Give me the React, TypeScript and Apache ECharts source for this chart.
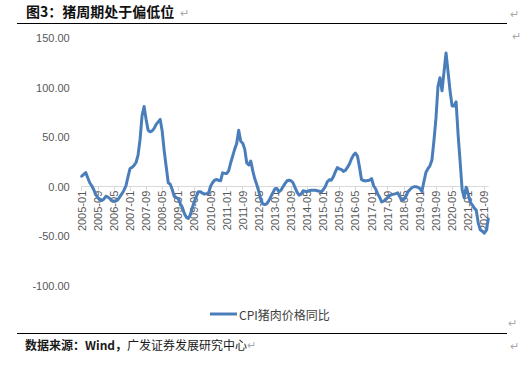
import React, { useEffect, useRef } from "react";
import * as echarts from "echarts";

const startYear = 2005;
const endYear = 2021;
const endMonth = 11;

const v2005 = [10.6, 12.5, 14.3, 9, 4, 1, -3, -8, -11, -13.5, -14, -12.5];
const v2006 = [-9.6, -10.5, -12, -14, -14.6, -14, -13, -10, -7, -3.5, 1, 10];
const v2007 = [18.4, 19.5, 21.5, 24.5, 32, 48, 72, 81, 68, 57, 55.5, 56.4];
const v2008 = [59, 63, 65.5, 68, 56, 36, 20, 4, 2.5, -3, -10, -11];
const v2009 = [-12, -17, -21, -27, -31, -32, -28, -21, -15, -9.5, -5, -5];
const v2010 = [-6.5, -7.5, -7, -6.9, 0.5, 4, 6.6, 7.3, 6.5, 6, 14, 13.5];
const v2011 = [13.3, 16, 24, 31, 38, 43.6, 57, 46, 44, 38, 24, 22];
const v2012 = [26, 16, 8, 2, -5, -13, -17.5, -18, -17, -14, -10, -6];
const v2013 = [-2, -1.8, -5.2, -3.5, 0, 3.2, 6, 6.5, 6, 4, -1, -5.5];
const v2014 = [-8.6, -7.5, -4, -4.5, -5, -4, -3.5, -3.5, -3.5, -4, -4.5, -5.2];
const v2015 = [-3, 0, 5, 7, 6.6, 10, 15, 19.4, 18, 17.4, 15.5, 16.5];
const v2016 = [19.5, 23, 28, 32, 34, 31, 20, 7.3, 6.2, 5.9, 6.3, 6.6];
const v2017 = [8.3, 1, -2, -7, -10.5, -15.4, -14.5, -13, -11, -9, -8, -7.5];
const v2018 = [-6.9, -6.2, -10, -13.6, -13, -10, -5.2, -3, -1, 0, 0, -0.5];
const v2019 = [-1.8, -4.8, 5.1, 14.4, 18.2, 21.1, 27, 46.7, 69.3, 101.3, 110.2, 97];
const v2020 = [116, 135.2, 116.4, 96.9, 81.7, 81.6, 85.7, 52.6, 25.5, -2.8, -11, -0.5];
const v2021 = [-7, -15.5, -18.4, -21.4, -23.8, -36.5, -43.5, -44.9, -46.9, -44, -32.7];

const porkCpiYoY = [
  ...v2005, ...v2006, ...v2007, ...v2008, ...v2009, ...v2010, ...v2011, ...v2012,
  ...v2013, ...v2014, ...v2015, ...v2016, ...v2017, ...v2018, ...v2019, ...v2020, ...v2021,
];

const categories: string[] = [];
for (let y = startYear; y <= endYear; y++) {
  for (let m = 1; m <= 12; m++) {
    if (y === endYear && m > endMonth) break;
    categories.push(`${y}-${m < 10 ? "0" + m : m}`);
  }
}

const seriesName = "CPI猪肉价格同比";
const titleText = "图3：猪周期处于偏低位";
const sourceBold = "数据来源：Wind，";
const sourceRest = "广发证券发展研究中心";

const gridTop = 38.3;
const gridBottomY = 285.7;
const yMin = -100;
const yMax = 150;

export default function App() {
  const ref = useRef<HTMLDivElement>(null);
  useEffect(() => {
    if (!ref.current) return;
    const chart = echarts.init(ref.current, undefined, { renderer: "svg" });
    const cjk = "'Noto Sans CJK SC', sans-serif";
    const latin = "'Liberation Sans', Arial, sans-serif";
    const zeroOffset = -((0 - yMin) / (yMax - yMin)) * (gridBottomY - gridTop);
    chart.setOption({
      animation: false,
      backgroundColor: "#ffffff",
      grid: { left: 81.7, right: 37.7, top: gridTop, bottom: 376 - gridBottomY, containLabel: false },
      legend: {
        left: 205,
        top: 303,
        icon: "rect",
        itemWidth: 27,
        itemHeight: 3,
        textStyle: { fontSize: 12, color: "#404040", fontFamily: cjk, padding: [0, 0, 0, -3] },
        data: [seriesName],
      },
      xAxis: {
        type: "category",
        data: categories,
        boundaryGap: false,
        offset: zeroOffset,
        axisLine: { onZero: false, lineStyle: { color: "#d9d9d9", width: 1 } },
        axisTick: { show: true, interval: 7, length: 4, lineStyle: { color: "#d9d9d9" } },
        axisLabel: { interval: 7, rotate: 90, fontSize: 11, color: "#595959", fontFamily: latin, margin: 4 },
        splitLine: { show: false },
      },
      yAxis: {
        type: "value",
        min: yMin,
        max: yMax,
        interval: 50,
        axisLine: { show: false },
        axisTick: { show: false },
        splitLine: { show: false },
        axisLabel: {
          fontSize: 11,
          color: "#595959",
          fontFamily: latin,
          margin: 12,
          formatter: (v: number) => v.toFixed(2),
        },
      },
      series: [
        {
          name: seriesName,
          type: "line",
          data: porkCpiYoY,
          symbol: "none",
          smooth: false,
          z: 5,
          lineStyle: { color: "#4a7ebb", width: 3, join: "round", cap: "round" },
          itemStyle: { color: "#4a7ebb" },
        },
      ],
      graphic: [
        {
          type: "text",
          style: { x: 26, y: 11, text: titleText, font: `bold 14px ${cjk}`, fill: "#111", verticalAlign: "middle", align: "left" },
        },
        {
          type: "text",
          style: { x: 180, y: 12, text: "↵", font: `11px ${cjk}`, fill: "#aaa", verticalAlign: "middle" },
        },
        {
          type: "text",
          style: { x: 510, y: 13, text: "↵", font: `11px ${cjk}`, fill: "#aaa", verticalAlign: "middle" },
        },
        {
          type: "text",
          style: { x: 512, y: 35, text: "↵", font: `11px ${cjk}`, fill: "#aaa", verticalAlign: "middle" },
        },
        {
          type: "line",
          shape: { x1: 17, y1: 23.5, x2: 507, y2: 23.5 },
          style: { stroke: "#000", lineWidth: 1 },
        },
        {
          type: "text",
          style: { x: 508, y: 322, text: "↵", font: `11px ${cjk}`, fill: "#aaa", verticalAlign: "middle" },
        },
        {
          type: "line",
          shape: { x1: 17, y1: 333.5, x2: 507, y2: 333.5 },
          style: { stroke: "#000", lineWidth: 1 },
        },
        {
          type: "text",
          style: {
            x: 25,
            y: 344,
            text: `{b|${sourceBold}}{n|${sourceRest}}{r|↵}`,
            verticalAlign: "middle",
            rich: {
              b: { font: `bold 12px ${cjk}`, fill: "#1a1a1a" },
              n: { font: `12px ${cjk}`, fill: "#1a1a1a" },
              r: { font: `11px ${cjk}`, fill: "#aaa" },
            },
          },
        },
        {
          type: "text",
          style: { x: 510, y: 345, text: "↵", font: `11px ${cjk}`, fill: "#aaa", verticalAlign: "middle" },
        },
      ],
    });
    return () => chart.dispose();
  }, []);
  return (
    <div
      ref={ref}
      style={{ position: "fixed", left: 0, top: 0, width: 526, height: 376, background: "#fff" }}
    />
  );
}
